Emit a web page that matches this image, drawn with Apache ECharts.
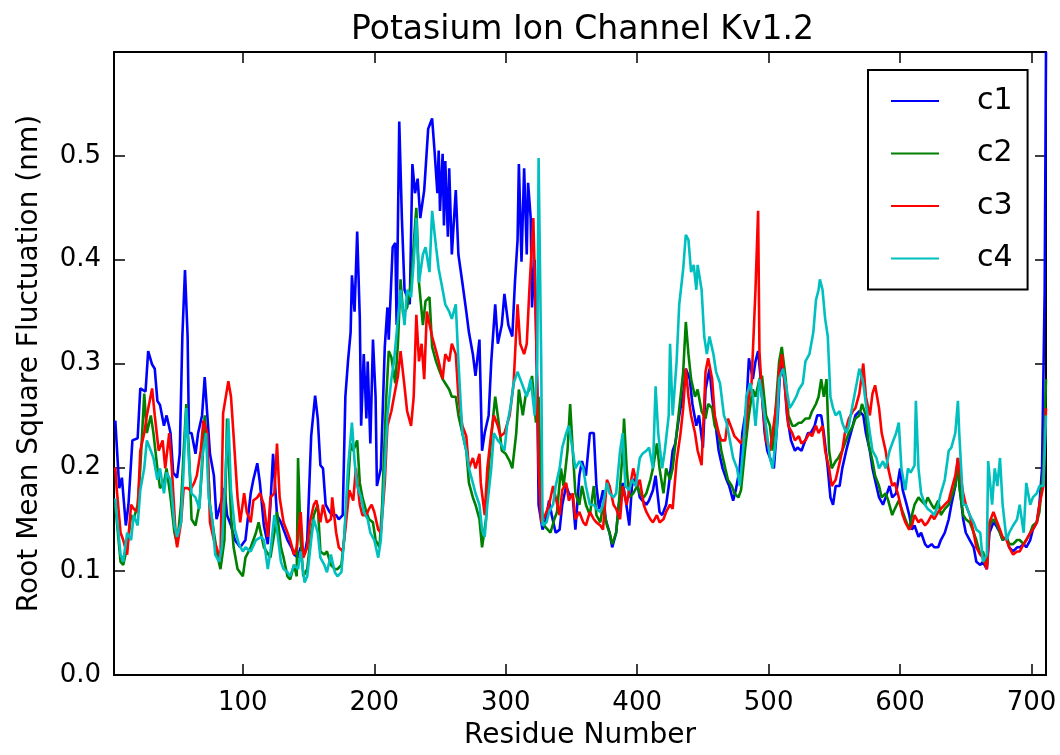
<!DOCTYPE html>
<html><head><meta charset="utf-8">
<script src="https://cdn.jsdelivr.net/npm/echarts@6/dist/echarts.min.js"></script>
<style>html,body{margin:0;padding:0;background:#fff}#chart{width:1060px;height:755px}</style>
</head><body><div id="chart"></div>
<script>
const chartTitle = 'Potasium Ion Channel Kv1.2';
const xName = 'Residue Number';
const yName = 'Root Mean Square Fluctuation (nm)';
const seriesNames = ['c1', 'c2', 'c3', 'c4'];
const xTicks = [100, 200, 300, 400, 500, 600, 700];
const yTicks = [0.0, 0.1, 0.2, 0.3, 0.4, 0.5];

// [residue, RMSF (nm)]
const c1 = [[3,0.245],[6,0.18],[8,0.19],[11,0.144],[13,0.164],[16,0.226],[20,0.228],[22,0.276],[26,0.273],[28,0.312],[31,0.299],[33,0.295],[35,0.264],[37,0.26],[40,0.24],[42,0.25],[45,0.233],[47,0.195],[50,0.19],[52,0.213],[54,0.326],[56,0.39],[58,0.326],[59,0.233],[61,0.233],[64,0.213],[66,0.233],[69,0.25],[71,0.287],[73,0.25],[75,0.213],[78,0.192],[80,0.15],[83,0.164],[86,0.18],[88,0.154],[91,0.144],[94,0.13],[98,0.123],[102,0.13],[106,0.175],[108,0.188],[111,0.204],[113,0.185],[116,0.144],[119,0.126],
[121,0.164],[123,0.213],[124,0.213],[126,0.154],[129,0.147],[131,0.14],[134,0.13],[137,0.123],[139,0.116],[142,0.113],[144,0.123],[147,0.116],[149,0.13],[152,0.23],[155,0.269],[157,0.247],[159,0.202],[161,0.199],[163,0.164],[166,0.157],[168,0.154],[171,0.154],[173,0.15],[176,0.154],[178,0.268],[180,0.302],[182,0.33],[183,0.385],[185,0.35],[187,0.427],[189,0.343],[190,0.24],[192,0.309],[194,0.247],[195,0.302],[197,0.223],[199,0.323],[201,0.268],[202,0.182],[205,0.199],[208,0.316],[210,0.354],[211,0.323],[214,0.412],[216,0.416],[217,0.337],[219,0.533],[221,0.44],[223,0.371],[225,0.364],[227,0.357],[229,0.492],[231,0.464],[233,0.478],[235,0.44],[238,0.467],[241,0.526],
[244,0.536],[246,0.502],[248,0.464],[249,0.505],[250,0.447],[252,0.502],[253,0.433],[254,0.495],[256,0.422],[257,0.488],[259,0.405],[262,0.467],[264,0.405],[267,0.378],[270,0.35],[272,0.33],[275,0.309],[277,0.288],[280,0.323],[282,0.216],[284,0.233],[287,0.25],[289,0.302],[292,0.357],[294,0.319],[297,0.337],[299,0.367],[302,0.337],[305,0.326],[307,0.378],[309,0.419],[310,0.492],[312,0.398],[314,0.488],[316,0.405],[317,0.474],[319,0.44],[320,0.354],[322,0.4],[324,0.275],[325,0.164],[328,0.14],[330,0.147],[333,0.168],[335,0.154],[338,0.137],[341,0.14],[343,0.164],[346,0.182],[348,0.175],[351,0.171],[353,0.14],[356,0.192],[358,0.206],[361,0.192],[364,0.233],
[367,0.233],[369,0.182],[371,0.16],[374,0.178],[376,0.15],[379,0.137],[381,0.123],[384,0.137],[386,0.164],[389,0.185],[391,0.171],[394,0.144],[396,0.182],[399,0.192],[402,0.171],[404,0.168],[407,0.164],[409,0.168],[412,0.178],[414,0.192],[417,0.157],[419,0.154],[422,0.164],[424,0.182],[427,0.216],[429,0.223],[432,0.25],[435,0.271],[437,0.295],[440,0.285],[442,0.261],[445,0.24],[447,0.25],[450,0.219],[452,0.275],[455,0.295],[457,0.268],[460,0.237],[462,0.216],[465,0.199],[468,0.188],[470,0.182],[473,0.168],[475,0.178],[478,0.199],[480,0.233],[483,0.257],[485,0.305],[487,0.292],
[488,0.285],[490,0.302],[492,0.312],[494,0.285],[497,0.233],[499,0.216],[502,0.206],[504,0.199],[507,0.25],[509,0.302],[512,0.285],[514,0.25],[517,0.226],[520,0.216],[522,0.219],[525,0.216],[527,0.223],[530,0.233],[532,0.233],[535,0.24],[537,0.25],[540,0.25],[542,0.233],[545,0.199],[547,0.171],[549,0.164],[551,0.182],[554,0.182],[556,0.199],[559,0.216],[561,0.226],[564,0.24],[566,0.25],[569,0.254],[572,0.25],[574,0.233],[577,0.216],[579,0.199],[582,0.182],[584,0.171],[587,0.164],[589,0.171],[592,0.182],[594,0.171],[597,0.175],[600,0.199],[602,0.178],[605,0.164],[607,0.154],
[609,0.14],[611,0.144],[614,0.133],[616,0.137],[619,0.126],[621,0.123],[624,0.126],[626,0.123],[629,0.123],[631,0.13],[634,0.137],[637,0.15],[639,0.164],[642,0.182],[644,0.206],[645,0.185],[648,0.15],[650,0.137],[653,0.13],[656,0.123],[658,0.109],[661,0.106],[663,0.109],[666,0.102],[668,0.137],[671,0.147],[673,0.144],[676,0.137],[678,0.13],[681,0.133],[683,0.123],[686,0.119],[689,0.123],[691,0.123],[694,0.126],[696,0.123],[699,0.13],[701,0.14],[704,0.147],[706,0.164],[708,0.199],[710,0.371],[711,0.6]];

const c2 = [[3,0.164],[7,0.109],[9,0.106],[12,0.123],[15,0.154],[17,0.15],[20,0.164],[22,0.199],[25,0.271],[27,0.233],[30,0.25],[32,0.233],[35,0.199],[37,0.18],[40,0.185],[42,0.199],[45,0.171],[48,0.137],[50,0.126],[53,0.164],[55,0.216],[57,0.261],[59,0.216],[61,0.15],[64,0.144],[67,0.164],[69,0.199],[71,0.25],[73,0.216],[75,0.164],[78,0.137],[81,0.113],[83,0.102],[86,0.13],[88,0.247],[91,0.154],[93,0.123],[96,0.102],[100,0.095],[102,0.113],[106,0.123],[110,0.137],[112,0.147],[116,0.123],
[121,0.113],[124,0.137],[126,0.157],[129,0.123],[131,0.113],[134,0.095],[136,0.092],[139,0.106],[141,0.095],[142,0.209],[144,0.13],[146,0.095],[149,0.102],[152,0.137],[154,0.154],[157,0.164],[159,0.119],[162,0.116],[164,0.119],[167,0.106],[170,0.102],[172,0.102],[175,0.106],[177,0.13],[180,0.182],[182,0.223],[184,0.216],[187,0.226],[189,0.185],[191,0.171],[194,0.157],[196,0.15],[199,0.147],[201,0.13],[204,0.123],[206,0.164],[209,0.264],[211,0.312],[213,0.306],[216,0.281],[218,0.319],[220,0.381],[222,0.347],[225,0.354],[228,0.378],[231,0.433],[232,0.45],[234,0.378],[237,0.337],[239,0.36],
[242,0.364],[244,0.316],[247,0.302],[249,0.295],[252,0.285],[254,0.281],[257,0.275],[259,0.268],[262,0.268],[264,0.25],[267,0.233],[270,0.216],[272,0.185],[275,0.171],[277,0.164],[280,0.15],[282,0.123],[285,0.15],[287,0.199],[290,0.243],[292,0.268],[295,0.24],[297,0.216],[300,0.213],[303,0.206],[305,0.199],[308,0.233],[310,0.275],[313,0.25],[315,0.268],[318,0.275],[320,0.288],[323,0.243],[325,0.268],[327,0.164],[329,0.144],[332,0.14],[334,0.137],[337,0.15],[339,0.157],[342,0.199],[344,0.182],[347,0.216],[349,0.261],[351,0.216],[353,0.175],[356,0.164],[358,0.182],[361,0.164],[364,0.154],
[367,0.182],[369,0.154],[372,0.147],[374,0.164],[377,0.144],[379,0.137],[381,0.126],[384,0.137],[386,0.164],[389,0.216],[390,0.247],[392,0.199],[394,0.171],[397,0.175],[400,0.182],[402,0.175],[405,0.171],[407,0.175],[410,0.188],[412,0.199],[415,0.223],[417,0.199],[420,0.175],[422,0.199],[425,0.188],[427,0.199],[430,0.233],[433,0.268],[435,0.292],[437,0.34],[439,0.309],[441,0.285],[444,0.268],[446,0.275],[449,0.254],[452,0.247],[454,0.261],[457,0.257],[459,0.24],[462,0.233],[464,0.216],[467,0.199],[469,0.188],[472,0.182],[474,0.175],[477,0.171],[479,0.178],[482,0.216],[485,0.25],[487,0.268],
[488,0.275],[490,0.268],[493,0.285],[495,0.288],[498,0.25],[501,0.24],[503,0.216],[506,0.268],[508,0.302],[510,0.316],[513,0.285],[515,0.25],[518,0.24],[520,0.24],[523,0.243],[525,0.243],[528,0.247],[531,0.247],[533,0.254],[536,0.261],[538,0.268],[540,0.285],[542,0.268],[544,0.285],[546,0.216],[548,0.199],[551,0.206],[553,0.209],[556,0.216],[558,0.223],[561,0.233],[564,0.24],[566,0.247],[569,0.25],[571,0.261],[574,0.25],[576,0.223],[579,0.206],[581,0.192],[584,0.182],[586,0.171],[589,0.175],[591,0.168],[594,0.154],[596,0.16],[599,0.168],[602,0.157],[604,0.15],[607,0.14],
[609,0.154],[611,0.164],[614,0.171],[616,0.168],[619,0.164],[621,0.171],[624,0.164],[626,0.16],[629,0.168],[631,0.154],[634,0.16],[637,0.164],[639,0.171],[642,0.182],[644,0.209],[645,0.182],[648,0.154],[650,0.15],[653,0.147],[656,0.137],[658,0.13],[661,0.116],[663,0.119],[666,0.106],[668,0.144],[671,0.15],[673,0.147],[676,0.137],[678,0.13],[681,0.133],[683,0.126],[686,0.126],[689,0.13],[691,0.13],[694,0.126],[696,0.13],[699,0.137],[701,0.144],[704,0.147],[706,0.157],[709,0.199],[711,0.285]];

const c3 = [[3,0.2],[4,0.18],[7,0.137],[9,0.13],[12,0.116],[15,0.164],[17,0.16],[20,0.157],[22,0.216],[25,0.233],[27,0.25],[31,0.276],[33,0.25],[36,0.216],[39,0.226],[41,0.199],[44,0.233],[46,0.199],[49,0.133],[50,0.123],[53,0.147],[55,0.18],[58,0.18],[60,0.178],[63,0.185],[65,0.192],[68,0.216],[70,0.245],[73,0.233],[75,0.147],[78,0.13],[81,0.119],[83,0.113],[85,0.252],[89,0.283],[91,0.268],[93,0.23],[96,0.171],[98,0.147],[101,0.175],[103,0.157],[106,0.147],[108,0.168],[111,0.171],[113,0.175],[116,0.164],[119,0.133],
[121,0.171],[124,0.175],[126,0.223],[128,0.171],[131,0.147],[134,0.137],[136,0.13],[139,0.116],[141,0.123],[144,0.157],[146,0.113],[149,0.123],[151,0.147],[154,0.164],[156,0.168],[159,0.147],[161,0.164],[164,0.147],[167,0.15],[168,0.171],[171,0.137],[173,0.123],[176,0.119],[178,0.14],[181,0.178],[184,0.168],[186,0.199],[189,0.164],[191,0.154],[194,0.154],[196,0.16],[198,0.164],[200,0.157],[203,0.14],[205,0.137],[208,0.185],[210,0.24],[213,0.254],[215,0.268],[218,0.288],[220,0.312],[223,0.278],[225,0.254],[228,0.24],[230,0.268],[232,0.347],[234,0.302],[236,0.319],[238,0.285],[240,0.35],
[244,0.326],[247,0.312],[249,0.302],[252,0.285],[254,0.309],[257,0.302],[259,0.319],[262,0.309],[264,0.268],[267,0.24],[270,0.23],[272,0.199],[275,0.209],[277,0.199],[280,0.213],[281,0.185],[284,0.154],[286,0.199],[289,0.233],[291,0.25],[294,0.24],[296,0.23],[299,0.233],[303,0.25],[306,0.281],[309,0.357],[311,0.319],[314,0.309],[316,0.319],[318,0.371],[321,0.44],[323,0.337],[325,0.199],[327,0.147],[330,0.154],[333,0.164],[336,0.182],[338,0.171],[341,0.154],[343,0.178],[346,0.185],[348,0.168],[351,0.175],[353,0.15],[356,0.157],[359,0.147],[361,0.144],[364,0.157],
[367,0.15],[369,0.147],[372,0.144],[374,0.14],[377,0.188],[379,0.182],[382,0.164],[384,0.16],[387,0.15],[389,0.182],[392,0.164],[394,0.178],[397,0.199],[400,0.182],[402,0.188],[405,0.164],[407,0.157],[410,0.15],[412,0.147],[415,0.154],[417,0.147],[420,0.15],[422,0.157],[425,0.164],[427,0.16],[430,0.206],[433,0.233],[435,0.257],[437,0.295],[439,0.268],[441,0.25],[444,0.233],[446,0.216],[449,0.202],[452,0.292],[454,0.305],[457,0.285],[459,0.25],[462,0.233],[464,0.226],[467,0.226],[469,0.247],[472,0.237],[474,0.23],[477,0.226],[479,0.223],[482,0.233],[485,0.268],[487,0.281],
[488,0.281],[490,0.371],[492,0.447],[493,0.312],[495,0.268],[498,0.226],[501,0.216],[503,0.233],[506,0.261],[508,0.292],[510,0.309],[513,0.268],[515,0.24],[518,0.233],[520,0.226],[523,0.23],[525,0.223],[528,0.226],[531,0.233],[533,0.23],[536,0.24],[538,0.233],[541,0.24],[543,0.216],[546,0.199],[548,0.182],[551,0.188],[553,0.199],[556,0.216],[558,0.233],[561,0.247],[564,0.254],[566,0.257],[569,0.271],[572,0.3],[574,0.268],[577,0.25],[579,0.271],[581,0.279],[584,0.257],[586,0.233],[589,0.216],[591,0.199],[594,0.182],[596,0.185],[599,0.171],[602,0.154],[604,0.147],[607,0.14],
[609,0.144],[611,0.154],[614,0.147],[616,0.15],[619,0.144],[621,0.147],[624,0.154],[626,0.15],[629,0.157],[631,0.16],[634,0.164],[637,0.168],[639,0.178],[642,0.192],[644,0.209],[645,0.199],[648,0.175],[650,0.164],[653,0.154],[656,0.137],[658,0.123],[661,0.116],[663,0.113],[666,0.102],[668,0.147],[671,0.157],[673,0.15],[676,0.14],[678,0.133],[681,0.13],[683,0.123],[686,0.116],[689,0.119],[691,0.119],[694,0.126],[696,0.13],[699,0.137],[701,0.14],[704,0.147],[706,0.164],[709,0.182],[711,0.257]];

const c4 = [[3,0.17],[4,0.154],[7,0.116],[9,0.109],[12,0.137],[15,0.13],[17,0.154],[20,0.144],[22,0.178],[25,0.199],[27,0.226],[30,0.216],[32,0.209],[35,0.188],[37,0.199],[40,0.175],[42,0.195],[45,0.188],[48,0.144],[50,0.133],[53,0.147],[55,0.199],[57,0.257],[59,0.206],[61,0.175],[64,0.171],[67,0.16],[69,0.209],[72,0.233],[74,0.171],[77,0.147],[79,0.116],[82,0.109],[84,0.123],[87,0.199],[89,0.247],[91,0.178],[94,0.14],[97,0.126],[100,0.119],[102,0.123],[106,0.119],[110,0.13],[114,0.133],[116,0.13],[119,0.102],
[121,0.119],[124,0.154],[126,0.14],[129,0.109],[131,0.102],[134,0.099],[136,0.095],[139,0.106],[142,0.102],[144,0.119],[147,0.089],[149,0.095],[152,0.13],[154,0.15],[157,0.137],[159,0.113],[162,0.106],[164,0.099],[167,0.116],[170,0.099],[172,0.095],[175,0.099],[177,0.13],[180,0.199],[183,0.243],[185,0.206],[187,0.182],[190,0.171],[192,0.157],[195,0.15],[197,0.137],[200,0.13],[203,0.113],[205,0.13],[208,0.199],[210,0.25],[213,0.285],[215,0.302],[218,0.343],[220,0.371],[223,0.337],[225,0.371],[228,0.364],[230,0.398],[232,0.44],[234,0.378],[237,0.405],[239,0.412],
[242,0.388],[244,0.447],[247,0.412],[249,0.391],[252,0.371],[254,0.357],[257,0.35],[259,0.343],[262,0.357],[264,0.302],[267,0.233],[270,0.216],[272,0.199],[275,0.185],[277,0.175],[280,0.164],[282,0.14],[284,0.133],[286,0.164],[289,0.199],[291,0.233],[294,0.226],[296,0.223],[299,0.216],[301,0.24],[304,0.261],[306,0.281],[309,0.292],[311,0.285],[314,0.275],[316,0.268],[319,0.285],[322,0.25],[324,0.302],[325,0.498],[327,0.302],[328,0.144],[331,0.147],[333,0.157],[336,0.164],[338,0.182],[341,0.199],[343,0.219],[346,0.233],[348,0.24],[351,0.216],[353,0.199],[356,0.206],[359,0.199],[361,0.182],[364,0.164],
[367,0.164],[369,0.16],[372,0.157],[374,0.164],[377,0.185],[379,0.175],[382,0.171],[384,0.175],[387,0.216],[389,0.233],[391,0.182],[394,0.178],[396,0.188],[399,0.182],[402,0.209],[404,0.213],[407,0.216],[409,0.219],[412,0.199],[414,0.278],[416,0.233],[419,0.199],[421,0.216],[424,0.25],[425,0.319],[427,0.25],[430,0.302],[432,0.357],[435,0.391],[437,0.424],[439,0.419],[441,0.388],[443,0.395],[445,0.371],[446,0.395],[449,0.371],[451,0.326],[453,0.309],[455,0.326],[458,0.309],[460,0.292],[463,0.281],[466,0.25],[468,0.243],[471,0.223],[473,0.209],[476,0.199],[478,0.182],[481,0.223],[483,0.268],[486,0.281],
[488,0.268],[490,0.24],[493,0.285],[495,0.268],[498,0.24],[501,0.209],[503,0.199],[506,0.233],[508,0.285],[511,0.295],[513,0.281],[516,0.257],[518,0.261],[521,0.268],[523,0.275],[526,0.281],[528,0.302],[531,0.309],[534,0.33],[536,0.361],[538,0.371],[539,0.381],[541,0.371],[543,0.343],[545,0.326],[547,0.268],[549,0.257],[551,0.25],[554,0.254],[556,0.243],[559,0.233],[561,0.24],[564,0.261],[567,0.281],[569,0.295],[572,0.281],[574,0.261],[577,0.233],[579,0.216],[582,0.209],[584,0.199],[587,0.206],[589,0.199],[592,0.216],[594,0.223],[597,0.233],[599,0.243],[601,0.199],[604,0.178],[606,0.199],[608,0.195],
[611,0.202],[612,0.264],[614,0.199],[616,0.175],[619,0.164],[621,0.16],[624,0.157],[626,0.154],[629,0.164],[631,0.175],[634,0.188],[637,0.216],[639,0.219],[642,0.233],[644,0.264],[645,0.233],[648,0.164],[650,0.164],[653,0.154],[656,0.147],[658,0.14],[661,0.137],[663,0.109],[666,0.116],[667,0.206],[670,0.164],[672,0.199],[674,0.182],[676,0.209],[678,0.164],[681,0.13],[683,0.137],[686,0.144],[689,0.15],[691,0.164],[694,0.137],[696,0.185],[699,0.164],[701,0.171],[704,0.175],[706,0.182],[709,0.182],[711,0.25]];

const seriesData = [c1, c2, c3, c4];
const colors = ['#0000ff', '#008000', '#ff0000', '#00bfbf'];
const FONT = 'DejaVu Sans';

const chart = echarts.init(document.getElementById('chart'), null, { renderer: 'canvas' });

const axisLine = { show: true, onZero: false, lineStyle: { color: '#000', width: 2 } };
const tickStyle = { color: '#000', width: 1.5 };

const option = {
  animation: false,
  backgroundColor: '#ffffff',
  title: {
    text: chartTitle, left: 346, top: 9,
    textStyle: { fontFamily: FONT, fontSize: 33, fontWeight: 'normal', color: '#000' }
  },
  legend: {
    data: seriesNames, orient: 'vertical', left: 868, top: 70,
    icon: 'rect', itemWidth: 48, itemHeight: 2, itemGap: 22.5,
    padding: [16, 15, 16, 23], borderColor: '#000', borderWidth: 2, borderRadius: 0,
    backgroundColor: '#fff', selectedMode: false,
    textStyle: { fontFamily: FONT, fontSize: 30, color: '#000', padding: [0, 0, 0, 33] }
  },
  grid: { left: 114, right: 14, top: 52, bottom: 80, containLabel: false, outerBoundsMode: 'none' },
  xAxis: [
    {
      type: 'value', min: 2, max: 711, position: 'bottom',
      name: xName, nameLocation: 'middle', nameGap: 47,
      nameTextStyle: { fontFamily: FONT, fontSize: 28, color: '#000' },
      axisLine: axisLine,
      axisTick: { show: true, inside: true, length: 11, customValues: xTicks, lineStyle: tickStyle },
      axisLabel: { customValues: xTicks, margin: 15, fontFamily: FONT, fontSize: 26, color: '#000' },
      splitLine: { show: false }
    },
    {
      type: 'value', min: 2, max: 711, position: 'top',
      axisLine: axisLine,
      axisTick: { show: true, inside: true, length: 11, customValues: xTicks, lineStyle: tickStyle },
      axisLabel: { show: false },
      splitLine: { show: false }
    }
  ],
  yAxis: [
    {
      type: 'value', min: 0, max: 0.6, interval: 0.1, position: 'left',
      name: yName, nameLocation: 'middle', nameGap: 70, nameRotate: 90,
      nameTextStyle: { fontFamily: FONT, fontSize: 28, color: '#000' },
      axisLine: axisLine,
      axisTick: { show: true, inside: true, length: 11, customValues: yTicks, lineStyle: tickStyle },
      axisLabel: { customValues: yTicks, margin: 13, fontFamily: FONT, fontSize: 26, color: '#000',
                   formatter: v => Number(v).toFixed(1) },
      splitLine: { show: false }
    },
    {
      type: 'value', min: 0, max: 0.6, interval: 0.1, position: 'right',
      axisLine: axisLine,
      axisTick: { show: true, inside: true, length: 11, customValues: yTicks, lineStyle: tickStyle },
      axisLabel: { show: false },
      splitLine: { show: false }
    }
  ],
  series: seriesData.map((d, i) => ({
    name: seriesNames[i], type: 'line', data: d,
    xAxisIndex: 0, yAxisIndex: 0,
    showSymbol: false, symbol: 'none', clip: true,
    lineStyle: { width: 2.6, color: colors[i] },
    itemStyle: { color: colors[i] },
    emphasis: { disabled: true }
  }))
};
chart.setOption(option);
</script>
</body></html>
